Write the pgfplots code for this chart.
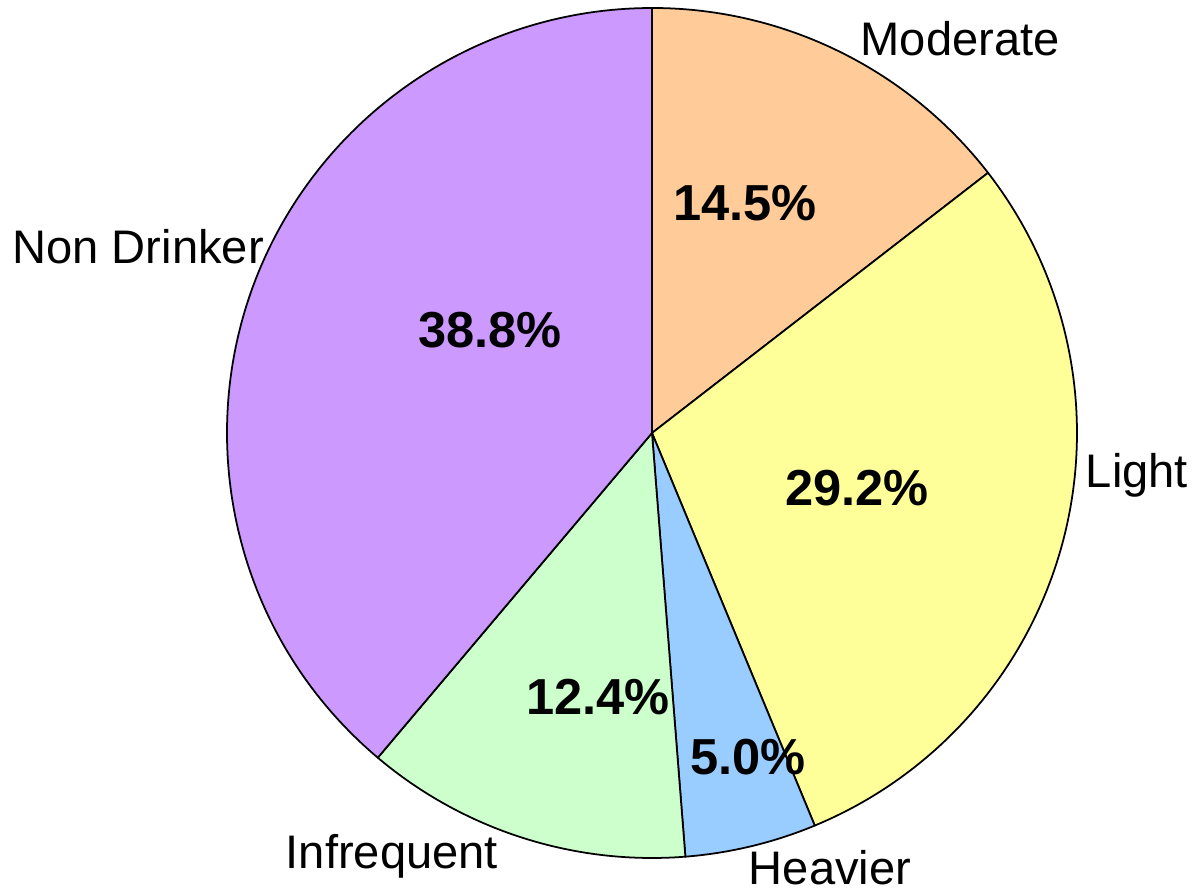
\documentclass[border=0pt]{standalone}
\usepackage{pgfplots}
\pgfplotsset{compat=1.18}
\usepackage{fontspec}
\setmainfont{Liberation Sans}
\definecolor{cMod}{HTML}{FFCC99}
\definecolor{cLight}{HTML}{FFFF99}
\definecolor{cHeavy}{HTML}{99CCFF}
\definecolor{cInfreq}{HTML}{CCFFCC}
\definecolor{cNon}{HTML}{CC99FF}
% slice: #1 cumulative start (%), #2 value (%), #3 colour
\newcommand\slice[3]{%
  \pgfmathsetmacro\aA{90-3.6036*#1}%
  \pgfmathsetmacro\aB{90-3.6036*(#1+#2)}%
  \edef\tmp{\noexpand\filldraw[fill=#3, draw=black, line width=0.5pt, line join=round]
    (axis cs:0,0) -- (axis cs:{cos(\aA)},{sin(\aA)})
    arc[start angle=\aA, end angle=\aB, radius=4.25cm] -- cycle;}%
  \tmp}
\begin{document}
\begin{tikzpicture}
\begin{axis}[
  scale only axis, width=11.92cm, height=8.89cm,
  xmin=-1.5341, xmax=1.2706, ymin=-1.0729, ymax=1.0188,
  hide axis, clip=false,
]
\slice{0}{14.5}{cMod}
\slice{14.5}{29.2}{cLight}
\slice{43.7}{5.0}{cHeavy}
\slice{48.7}{12.4}{cInfreq}
\slice{61.1}{38.8}{cNon}
\begin{scope}[every node/.style={font=\fontsize{14.4}{17}\selectfont\bfseries, text depth=0pt}]
\node at (axis cs:0.219,0.541) {14.5\%};
\node at (axis cs:0.482,-0.129) {29.2\%};
\node at (axis cs:0.226,-0.762) {5.0\%};
\node at (axis cs:-0.127,-0.621) {12.4\%};
\node at (axis cs:-0.381,0.242) {38.8\%};
\end{scope}
\begin{scope}[every node/.style={font=\fontsize{13.4}{16}\selectfont, text depth=0pt}]
\node at (axis cs:0.725,0.929) {Moderate};
\node at (axis cs:1.141,-0.087) {Light};
\node at (axis cs:0.419,-1.022) {Heavier};
\node at (axis cs:-0.612,-0.985) {Infrequent};
\node at (axis cs:-1.209,0.438) {Non Drinker};
\end{scope}
\end{axis}
\pgfresetboundingbox
\path (current axis.south west) rectangle (current axis.north east);
\end{tikzpicture}
\end{document}
